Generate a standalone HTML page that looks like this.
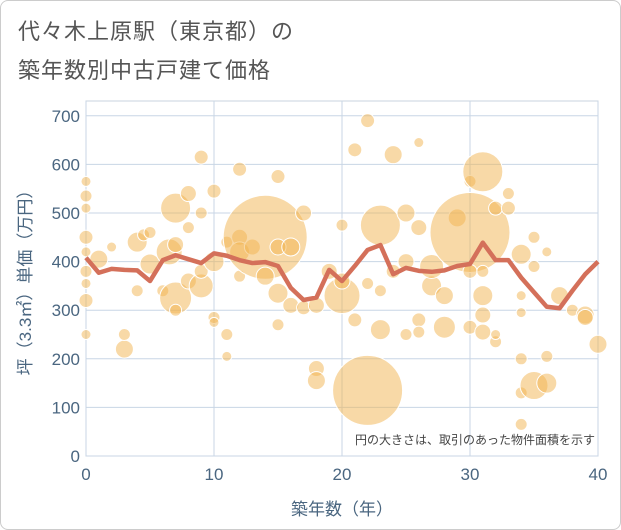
<!DOCTYPE html>
<html><head><meta charset="utf-8"><style>
body{margin:0;background:#fff;}
#wrap{position:relative;width:619px;height:528px;border:1px solid #ccc;border-radius:8px;overflow:hidden;font-family:"Liberation Sans","Noto Sans CJK JP",sans-serif;}
.title{position:absolute;left:17px;font-size:22px;color:#555;letter-spacing:1px;}
</style></head><body>
<div id="wrap">
<div class="title" style="top:13px">代々木上原駅（東京都）の</div>
<div class="title" style="top:52px">築年数別中古戸建て価格</div>
<svg id="chart" width="621" height="530" style="position:absolute;left:0;top:0"></svg>
</div>
<script>
const years=[0,1,2,3,4,5,6,7,8,9,10,11,12,13,14,15,16,17,18,19,20,21,22,23,24,25,26,27,28,29,30,31,32,33,34,35,36,37,38,39,40];
const avgPrice=[408,377,385,383,382,360,403,413,405,397,417,412,403,397,399,391,346,321,326,383,360,391,424,434,374,387,381,379,382,391,395,439,403,403,367,337,307,304,340,374,400];
const bubbleYear=[0,0,0,0,0,0,0,0,0,1,2,3,3,4,4,4.5,5,5,6,6.5,7,7,7,7,8,8,8,9,9,9,9,10,10,10,10,11,11,11,12,12,12,12,13,14,14,15,15,15,15,16,16,17,17,18,18,18,19,20,20,20,21,21,22,22,22,23,23,23,24,24,25,25,25,26,26,26,26,27,27,28,28,29,30,30,30,30,31,31,31,31,31,32,32,32,33,33,34,34,34,34,34,34,35,35,35,36,36,36,37,38,39,39,40];
const bubbleValue=[565,535,510,450,420,380,355,320,250,405,430,220,250,440,340,455,395,460,340,420,510,435,325,300,540,470,360,350,615,500,380,545,285,275,400,440,205,250,590,450,420,370,430,450,370,575,430,335,270,430,310,500,305,310,180,155,380,330,475,360,630,280,690,135,355,475,340,260,620,380,500,400,250,645,470,280,255,350,390,330,265,490,460,565,265,380,585,330,290,380,255,510,235,250,540,510,415,330,295,200,130,65,450,390,145,420,205,150,330,300,290,285,230];
const bubbleSize=[5,6,5,7,5,6,5,7,5,9,5,9,6,10,6,6,10,6,6,13,15,8,16,6,8,6,8,12,7,6,7,7,6,5,10,6,5,6,7,8,10,6,8,42,9,7,8,10,6,9,8,8,7,8,8,9,8,18,6,8,7,7,7,35,6,20,6,10,9,7,9,8,6,5,8,7,6,10,12,9,11,9,40,6,7,7,20,10,8,6,8,7,6,5,6,7,10,5,5,6,6,6,6,6,14,5,6,10,9,6,9,8,9];
const yTicks=[0,100,200,300,400,500,600,700];
const xTicks=[0,10,20,30,40];
const NS='http://www.w3.org/2000/svg';
const svg=document.getElementById('chart');
const L=85,R=597,T=100,B=455;
const xs=v=>L+(v-0)/40*(R-L);
const ys=v=>B-v*0.486;
function mk(tag,attrs,parent){const e=document.createElementNS(NS,tag);for(const k in attrs)e.setAttribute(k,attrs[k]);(parent||svg).appendChild(e);return e;}
const frame=mk('rect',{x:L,y:T,width:R-L,height:B-T,fill:'#fff',stroke:'#c8d3df'});


yTicks.forEach(t=>{
 const g=mk('line',{x1:L,x2:R,y1:ys(t),y2:ys(t),stroke:'#c8d6e5','stroke-width':1});
 
 
 const lb=mk('text',{x:L-6,y:ys(t)+6,'text-anchor':'end','font-size':17,fill:'#4a6680'});
 lb.textContent=t;
 
 
});
xTicks.forEach(t=>{
 const g=mk('line',{x1:xs(t),x2:xs(t),y1:T,y2:B,stroke:'#c8d6e5','stroke-width':1});
 
 
 const lb=mk('text',{x:xs(t),y:B+24,'text-anchor':'middle','font-size':17,fill:'#4a6680'});
 lb.textContent=t;
 
 
});
const bub=mk('g',{});


bubbleYear.forEach((yr,i)=>{
 const c=mk('circle',{cx:xs(yr),cy:ys(bubbleValue[i]),r:bubbleSize[i],fill:'rgba(242,180,80,0.5)',stroke:'#fff','stroke-width':1},bub);
 
 
});
const ln=mk('polyline',{points:years.map((y,i)=>xs(y)+','+ys(avgPrice[i])).join(' '),fill:'none',stroke:'#d4705a','stroke-width':4.5,'stroke-linejoin':'round'});


const yt=mk('text',{x:0,y:0,'text-anchor':'middle','font-size':17,fill:'#4a6680',transform:'translate(30,'+((T+B)/2)+') rotate(-90)'});
yt.textContent='坪（3.3㎡）単価（万円）';


const xt=mk('text',{x:(L+R)/2,y:514,'text-anchor':'middle','font-size':17,fill:'#4a6680'});
xt.textContent='築年数（年）';


const nt=mk('text',{x:594,y:443,'text-anchor':'end','font-size':12,fill:'#444'});
nt.textContent='円の大きさは、取引のあった物件面積を示す';


</script>
</body></html>
